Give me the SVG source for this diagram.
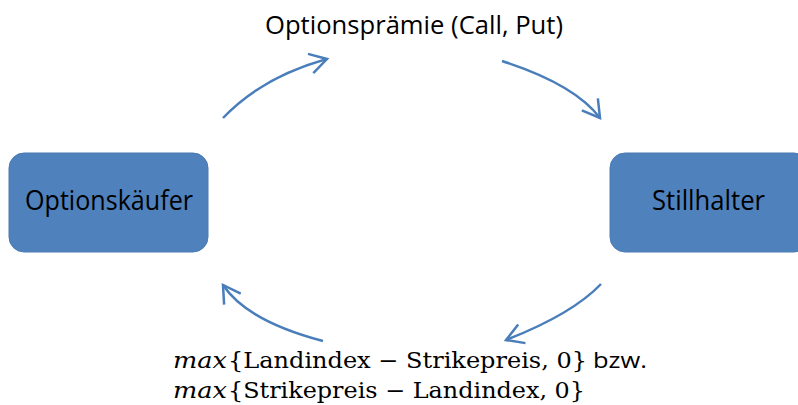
<svg xmlns="http://www.w3.org/2000/svg" width="798" height="405" viewBox="0 0 798 405">
  <style>
    .box { fill: #4F81BD; stroke: #4A7AB3; stroke-width: 1; }
    .label { font-family: "Open Sans", "Liberation Sans", sans-serif; fill: #000; }
    .math { font-family: "DejaVu Serif", "Liberation Serif", serif; fill: #000; font-size: 22px; }
    .arc { fill: none; stroke: #4A7EBB; stroke-width: 2.5; marker-end: url(#head); }
  </style>
  <defs>
    <marker id="head" markerUnits="userSpaceOnUse" markerWidth="40" markerHeight="40" refX="0" refY="0" viewBox="-20 -20 40 40" orient="auto" overflow="visible">
      <polyline points="-17,-10 0,0 -17,10" fill="none" stroke="#4A7EBB" stroke-width="2.5" stroke-linejoin="miter"/>
    </marker>
  </defs>

  <rect width="798" height="405" fill="#FFFFFF"/>

  <!-- parties -->
  <g id="optionskaeufer">
    <rect class="box" x="9" y="153" width="199" height="99" rx="15" ry="15"/>
    <text class="label" x="25" y="210" font-size="27" textLength="168" lengthAdjust="spacingAndGlyphs">Optionskäufer</text>
  </g>
  <g id="stillhalter">
    <rect class="box" x="610" y="153" width="199" height="99" rx="15" ry="15"/>
    <text class="label" x="652" y="210" font-size="27" textLength="113" lengthAdjust="spacingAndGlyphs">Stillhalter</text>
  </g>

  <!-- flow labels -->
  <g id="praemie">
    <text class="label" x="265" y="34" font-size="26" textLength="298" lengthAdjust="spacingAndGlyphs">Optionsprämie (Call, Put)</text>
  </g>
  <g id="auszahlung">
    <text class="math" x="173" y="368" font-style="italic" textLength="54" lengthAdjust="spacingAndGlyphs">max</text>
    <text class="math" x="228" y="368" textLength="359" lengthAdjust="spacingAndGlyphs">{Landindex − Strikepreis, 0}</text>
    <text class="label" x="593" y="368" font-size="22" textLength="54" lengthAdjust="spacingAndGlyphs">bzw.</text>
    <text class="math" x="173" y="398" font-style="italic" textLength="54" lengthAdjust="spacingAndGlyphs">max</text>
    <text class="math" x="228" y="398" textLength="357" lengthAdjust="spacingAndGlyphs">{Strikepreis − Landindex, 0}</text>
  </g>

  <!-- connectors -->
  <g id="connectors">
    <path class="arc" d="M223,118 Q262,77 327,59"/>
    <path class="arc" d="M502,61 Q575,84.5 600,118"/>
    <path class="arc" d="M601,284 Q572.5,314 506,340"/>
    <path class="arc" d="M323,341 Q247,321 223,285"/>
  </g>
</svg>
